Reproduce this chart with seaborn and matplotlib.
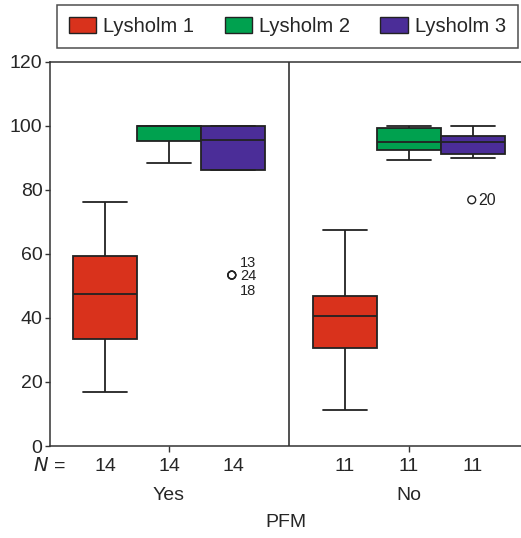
import matplotlib.pyplot as plt
from matplotlib.patches import Patch
import numpy as np
import pandas as pd
import seaborn as sns

# five-number summaries: low whisker, Q1, median, Q3, high whisker
groups = ['Yes', 'No']
scores = ['Lysholm 1', 'Lysholm 2', 'Lysholm 3']
summ_yes = {'Lysholm 1': [16.9, 33.4, 47.5, 59.4, 76.3],
            'Lysholm 2': [88.4, 95.3, 100.0, 100.0, 100.0],
            'Lysholm 3': [86.3, 86.3, 95.6, 100.0, 100.0]}
summ_no = {'Lysholm 1': [11.3, 30.6, 40.6, 46.9, 67.5],
           'Lysholm 2': [89.2, 92.4, 95.1, 99.3, 100.0],
           'Lysholm 3': [90.1, 91.3, 95.1, 96.7, 100.0]}
n_yes = [14, 14, 14]
n_no = [11, 11, 11]
# outliers: (group, score, value, label)
outliers = [('Yes', 'Lysholm 3', 53.4, '13'), ('Yes', 'Lysholm 3', 53.4, '24'),
            ('Yes', 'Lysholm 3', 53.4, '18'), ('No', 'Lysholm 3', 76.9, '20')]

palette = {'Lysholm 1': '#d9321c', 'Lysholm 2': '#00a14f', 'Lysholm 3': '#4b2d98'}

rows = []
for g, summ in zip(groups, [summ_yes, summ_no]):
    for s in scores:
        for v in summ[s]:
            rows.append({'PFM': g, 'score': s, 'value': v})
df = pd.DataFrame(rows)

sns.set_style('white')
plt.rcParams['font.family'] = ['Liberation Sans', 'DejaVu Sans']
fs = 14

fig = plt.figure(figsize=(5.21, 5.38), dpi=100)
ax = fig.add_axes([0.096, 0.171, 0.904, 0.714])

sns.boxplot(ax=ax, data=df, x='PFM', y='value', hue='score', order=groups, hue_order=scores,
            palette=palette, width=0.8, gap=0, whis=np.inf, linecolor='#222222', linewidth=1.3,
            saturation=1, legend=False, capwidths=0.18)

# outliers drawn on the same categorical axis
width = 0.8 / 3
for g, s, v, lab in outliers:
    xc = groups.index(g) + (scores.index(s) - 1) * width
    ax.scatter([xc - 0.005], [v], s=32, facecolors='none', edgecolors='#222222', linewidths=1, zorder=5)
# (dx, dy, ha) relative to the outlier mark
label_offsets = {'13': (0.096, 3.8, 'right'), '24': (0.096, -0.3, 'right'),
                 '18': (0.096, -5.1, 'right'), '20': (0.021, -0.3, 'left')}
for g, s, v, lab in outliers:
    xc = groups.index(g) + (scores.index(s) - 1) * width
    dx, dy, ha = label_offsets[lab]
    ax.text(xc + dx, v + dy, lab, fontsize=10.5 if lab != '20' else 11.5, va='center', ha=ha,
            color='#222222')

ax.axvline(0.5, color='#222222', lw=1.1)
ax.set_xlim(-0.496, 1.467)
ax.set_ylim(0, 120)
ax.set_yticks(range(0, 121, 20))
ax.tick_params(axis='y', labelsize=fs, length=3.5, width=1, color='#333333', left=True, pad=2)
ax.tick_params(axis='x', labelsize=fs, length=4, width=1, color='#333333', bottom=True, pad=25.5)
ax.set_xticks([0, 1])
ax.set_xticklabels(groups)
ax.set_xlabel('PFM', fontsize=fs, labelpad=7.5)
ax.set_ylabel('')
ax.spines['right'].set_visible(False)
for side in ['left', 'bottom', 'top']:
    ax.spines[side].set_color('#333333')
    ax.spines[side].set_linewidth(1.1)

# N row under the axis
ax.text(-0.50, -6.3, '$N$ =', fontsize=fs, ha='center', va='center', clip_on=False)
for gi, ns in enumerate([n_yes, n_no]):
    for si, n in enumerate(ns):
        ax.text(gi + (si - 1) * width, -6.3, str(n), fontsize=fs, ha='center', va='center',
                clip_on=False)

handles = [Patch(facecolor=palette[s], edgecolor='#222222', label=s) for s in scores]
leg = fig.legend(handles=handles, loc='upper left', bbox_to_anchor=(0.109, 0.913, 0.885, 0.078),
                 mode='expand', ncol=3, fontsize=14.5, frameon=True, fancybox=False,
                 handlelength=1.35, handleheight=0.85, handletextpad=0.35, columnspacing=1.0,
                 borderpad=0.6, borderaxespad=0)
leg.get_frame().set_edgecolor('#222222')
leg.get_frame().set_linewidth(1.1)

fig.savefig('out.png', dpi=100)
